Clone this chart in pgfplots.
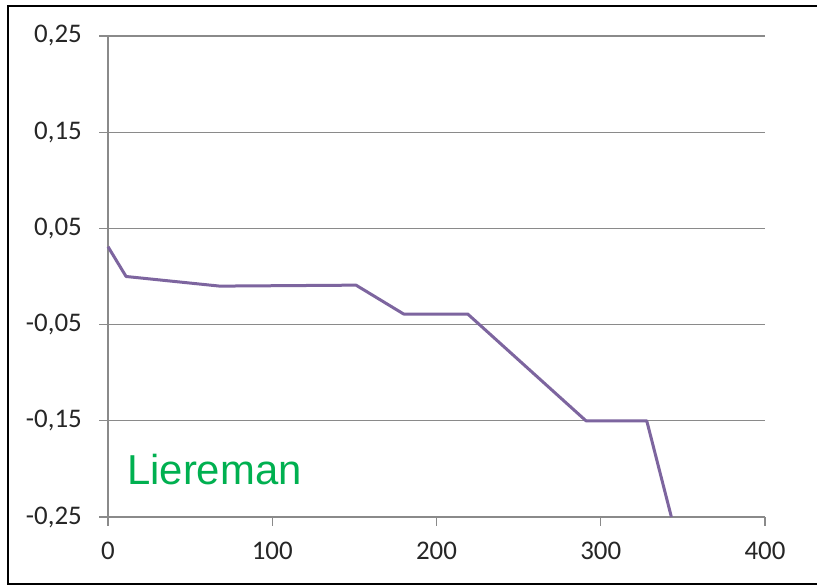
\documentclass[border=0pt]{standalone}
\usepackage{pgfplots}
\pgfplotsset{compat=1.18}
\usepackage{fontspec}
\newfontfamily\tickfont{Carlito}
\newfontfamily\labfont{Liberation Sans}
\definecolor{linepurple}{HTML}{7D659F}
\definecolor{gridgray}{HTML}{8A8A8A}
\definecolor{labgreen}{HTML}{00B050}
\begin{document}
\begin{tikzpicture}[x=1bp,y=1bp]
\useasboundingbox (0,0) rectangle (817,586);
\fill[white] (0,0) rectangle (817,586);
\begin{axis}[
  at={(108bp,69bp)}, anchor=south west,
  scale only axis, width=657bp, height=481bp,
  xmin=0, xmax=400, ymin=-0.25, ymax=0.25,
  axis x line*=bottom, axis y line*=left,
  axis line style={gridgray, line width=1.3bp},
  xtick={0,100,200,300,400},
  xticklabels={0,100,200,300,400},
  ytick={-0.25,-0.15,-0.05,0.05,0.15,0.25},
  yticklabels={{-0,25},{-0,15},{-0,05},{0,05},{0,15},{0,25}},
  tick align=outside,
  major tick length=9bp,
  tick style={gridgray, line width=1.3bp},
  ymajorgrids,
  major grid style={gridgray, line width=1.3bp},
  ticklabel style={font=\tickfont\fontsize{27}{32}\selectfont, text=black!85},
  yticklabel style={anchor=east, inner sep=0pt, xshift=-17bp},
  xticklabel style={anchor=north, inner sep=0pt, yshift=-16bp},
  clip=false,
]
\addplot[linepurple, line width=3bp, line join=round] coordinates {
  (0,0.031) (11,0.0) (68,-0.01) (151,-0.009) (180,-0.039)
  (219,-0.039) (291,-0.150) (328,-0.150) (343,-0.25)
};
\end{axis}
\node[anchor=base west, inner sep=0pt, text=labgreen, font=\labfont\fontsize{42}{50}\selectfont] at (127,101) {Liereman};
\draw[black, line width=2.2bp] (817,580) -- (8,580) -- (8,2) -- (817,2);
\end{tikzpicture}
\end{document}
